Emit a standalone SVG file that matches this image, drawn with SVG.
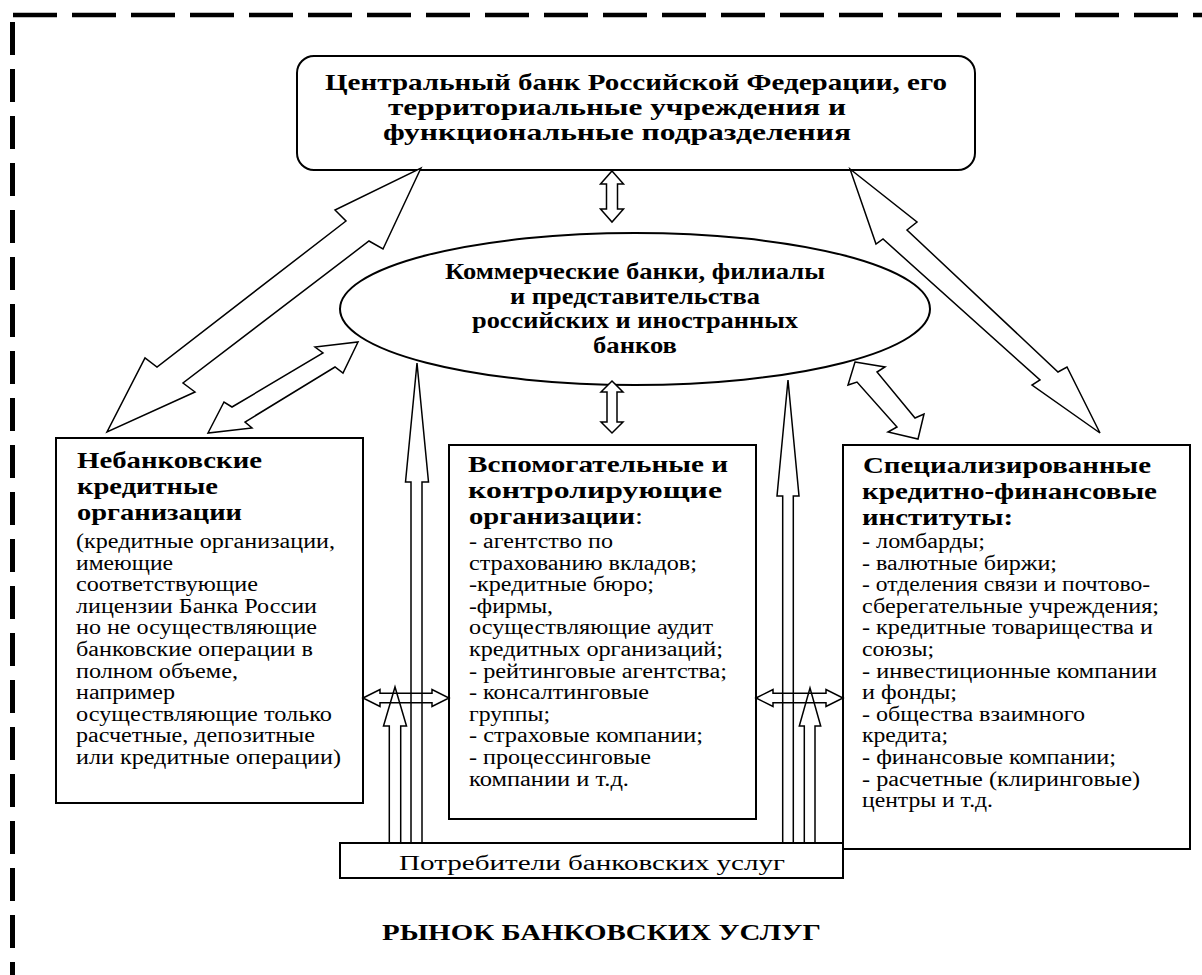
<svg xmlns="http://www.w3.org/2000/svg" width="1202" height="975" viewBox="0 0 1202 975">
<style>
.b{font-family:"Liberation Serif","Times New Roman",serif;font-weight:bold;font-size:23px;fill:#000}
.r{font-family:"Liberation Serif","Times New Roman",serif;font-size:20.5px;fill:#000}
.n{font-weight:normal}
.box{fill:#fff;stroke:#000;stroke-width:2}
.arr{fill:#fff;stroke:#000;stroke-width:1.5;stroke-linejoin:miter}
.ln{fill:none;stroke:#000;stroke-width:1.5;stroke-linejoin:miter}
.dash{stroke:#000;fill:none}
</style>
<defs>
<clipPath id="cons"><rect x="340" y="843" width="503" height="35"/></clipPath>
</defs>
<rect width="1202" height="975" fill="#fff"/>
<g id="frame">
<line class="dash" x1="13" y1="15" x2="1202" y2="15" stroke-width="4.5" stroke-dasharray="44 15"/>
<line class="dash" x1="12.5" y1="22" x2="12.5" y2="975" stroke-width="5" stroke-dasharray="33 14"/>
</g>
<g id="cbr">
<rect class="box" x="297" y="56" width="678" height="114" rx="17" stroke-width="1.6"/>
<text class="b" x="325" y="90" textLength="622" lengthAdjust="spacingAndGlyphs">Центральный банк Российской Федерации, его</text>
<text class="b" x="388" y="115" textLength="458" lengthAdjust="spacingAndGlyphs">территориальные учреждения и</text>
<text class="b" x="383" y="140" textLength="468" lengthAdjust="spacingAndGlyphs">функциональные подразделения</text>
</g>
<g id="commercial">
<ellipse class="box" cx="635" cy="309" rx="295" ry="76" stroke-width="1.6"/>
<text class="b" x="445" y="279" textLength="380" lengthAdjust="spacingAndGlyphs">Коммерческие банки, филиалы</text>
<text class="b" x="510" y="303.5" textLength="250" lengthAdjust="spacingAndGlyphs">и представительства</text>
<text class="b" x="472" y="328" textLength="326" lengthAdjust="spacingAndGlyphs">российских и иностранных</text>
<text class="b" x="593" y="352.5" textLength="84" lengthAdjust="spacingAndGlyphs">банков</text>
</g>
<g id="nonbank">
<rect class="box" x="56" y="438" width="307" height="365"/>
<text class="b" x="77" y="468" textLength="185" lengthAdjust="spacingAndGlyphs">Небанковские</text>
<text class="b" x="77" y="494" textLength="141" lengthAdjust="spacingAndGlyphs">кредитные</text>
<text class="b" x="77" y="520" textLength="165" lengthAdjust="spacingAndGlyphs">организации</text>
<text class="r" x="76" y="548" textLength="259" lengthAdjust="spacingAndGlyphs">(кредитные организации,</text>
<text class="r" x="76" y="569.6" textLength="97" lengthAdjust="spacingAndGlyphs">имеющие</text>
<text class="r" x="76" y="591.2" textLength="182" lengthAdjust="spacingAndGlyphs">соответствующие</text>
<text class="r" x="76" y="612.8" textLength="241" lengthAdjust="spacingAndGlyphs">лицензии Банка России</text>
<text class="r" x="76" y="634.4" textLength="241" lengthAdjust="spacingAndGlyphs">но не осуществляющие</text>
<text class="r" x="76" y="656" textLength="237" lengthAdjust="spacingAndGlyphs">банковские операции в</text>
<text class="r" x="76" y="677.6" textLength="162" lengthAdjust="spacingAndGlyphs">полном объеме,</text>
<text class="r" x="76" y="699.2" textLength="99" lengthAdjust="spacingAndGlyphs">например</text>
<text class="r" x="76" y="720.8" textLength="256" lengthAdjust="spacingAndGlyphs">осуществляющие только</text>
<text class="r" x="76" y="742.4" textLength="239" lengthAdjust="spacingAndGlyphs">расчетные, депозитные</text>
<text class="r" x="76" y="764" textLength="265" lengthAdjust="spacingAndGlyphs">или кредитные операции)</text>
</g>
<g id="auxiliary">
<rect class="box" x="449" y="445" width="307" height="374"/>
<text class="b" x="468" y="472" textLength="260" lengthAdjust="spacingAndGlyphs">Вспомогательные и</text>
<text class="b" x="468" y="498" textLength="254" lengthAdjust="spacingAndGlyphs">контролирующие</text>
<text class="b" x="469" y="524" textLength="174" lengthAdjust="spacingAndGlyphs">организации<tspan class="n">:</tspan></text>
<text class="r" x="469" y="548" textLength="144" lengthAdjust="spacingAndGlyphs">- агентство по</text>
<text class="r" x="469" y="569.6" textLength="228" lengthAdjust="spacingAndGlyphs">страхованию вкладов;</text>
<text class="r" x="469" y="591.2" textLength="185" lengthAdjust="spacingAndGlyphs">-кредитные бюро;</text>
<text class="r" x="469" y="612.8" textLength="84" lengthAdjust="spacingAndGlyphs">-фирмы,</text>
<text class="r" x="469" y="634.4" textLength="244" lengthAdjust="spacingAndGlyphs">осуществляющие аудит</text>
<text class="r" x="469" y="656" textLength="254" lengthAdjust="spacingAndGlyphs">кредитных организаций;</text>
<text class="r" x="469" y="677.6" textLength="258" lengthAdjust="spacingAndGlyphs">- рейтинговые агентства;</text>
<text class="r" x="469" y="699.2" textLength="180" lengthAdjust="spacingAndGlyphs">- консалтинговые</text>
<text class="r" x="469" y="720.8" textLength="81" lengthAdjust="spacingAndGlyphs">группы;</text>
<text class="r" x="469" y="742.4" textLength="234" lengthAdjust="spacingAndGlyphs">- страховые компании;</text>
<text class="r" x="469" y="764" textLength="182" lengthAdjust="spacingAndGlyphs">- процессинговые</text>
<text class="r" x="469" y="785.6" textLength="160" lengthAdjust="spacingAndGlyphs">компании и т.д.</text>
</g>
<g id="specialized">
<rect class="box" x="843" y="445" width="347" height="404"/>
<text class="b" x="863" y="473" textLength="288" lengthAdjust="spacingAndGlyphs">Специализированные</text>
<text class="b" x="862" y="499" textLength="295" lengthAdjust="spacingAndGlyphs">кредитно-финансовые</text>
<text class="b" x="862" y="525" textLength="151" lengthAdjust="spacingAndGlyphs">институты:</text>
<text class="r" x="862" y="548" textLength="123" lengthAdjust="spacingAndGlyphs">- ломбарды;</text>
<text class="r" x="862" y="569.6" textLength="195" lengthAdjust="spacingAndGlyphs">- валютные биржи;</text>
<text class="r" x="862" y="591.2" textLength="288" lengthAdjust="spacingAndGlyphs">- отделения связи и почтово-</text>
<text class="r" x="862" y="612.8" textLength="297" lengthAdjust="spacingAndGlyphs">сберегательные учреждения;</text>
<text class="r" x="862" y="634.4" textLength="291" lengthAdjust="spacingAndGlyphs">- кредитные товарищества и</text>
<text class="r" x="862" y="656" textLength="72" lengthAdjust="spacingAndGlyphs">союзы;</text>
<text class="r" x="862" y="677.6" textLength="295" lengthAdjust="spacingAndGlyphs">- инвестиционные компании</text>
<text class="r" x="862" y="699.2" textLength="95" lengthAdjust="spacingAndGlyphs">и фонды;</text>
<text class="r" x="862" y="720.8" textLength="223" lengthAdjust="spacingAndGlyphs">- общества взаимного</text>
<text class="r" x="862" y="742.4" textLength="86" lengthAdjust="spacingAndGlyphs">кредита;</text>
<text class="r" x="862" y="764" textLength="254" lengthAdjust="spacingAndGlyphs">- финансовые компании;</text>
<text class="r" x="862" y="785.6" textLength="278" lengthAdjust="spacingAndGlyphs">- расчетные (клиринговые)</text>
<text class="r" x="862" y="807.2" textLength="131" lengthAdjust="spacingAndGlyphs">центры и т.д.</text>
</g>
<g id="consumers">
<rect class="box" x="340" y="843" width="503" height="35"/>
<text class="r" x="399" y="870" font-size="21" textLength="386" lengthAdjust="spacingAndGlyphs" clip-path="url(#cons)">Потребители банковских услуг</text>
</g>
<g id="market">
<text class="b" x="382" y="940" font-size="21" textLength="439" lengthAdjust="spacingAndGlyphs">РЫНОК БАНКОВСКИХ УСЛУГ</text>
</g>
<g id="connectors">
<path class="arr" d="M421,168 L383,249 L369,241 L183,383 L195,392 L107,432 L145,358 L157,367 L346,221 L335,210 Z"/>
<path class="arr" d="M358,342 L343,373 L335,367 L245,422 L252,428 L208,433 L224,402 L232,407 L323,353 L315,347 Z"/>
<path class="arr" d="M850,169 L917,222 L907,230 L1058,372 L1067,367 L1100,433 L1032,385 L1040,380 L883,239 L876,244 Z"/>
<path class="arr" d="M855,362 L885,367 L877,372 L915,418 L924,414 L918,439 L888,432 L897,427 L857,382 L848,385 Z"/>
<path class="arr" d="M612,171 L623.5,184 L617.5,184 L617.5,209 L623.5,209 L612,222 L600.5,209 L606.5,209 L606.5,184 L600.5,184 Z"/>
<path class="arr" d="M612,381 L623,392 L617,392 L617,422 L623,422 L612,433 L601,422 L607,422 L607,392 L601,392 Z"/>
<path class="ln" d="M363,698 L380,689.5 L380,693.3 L432,693.3 L432,689.5 L449,698 L432,706.5 L432,702.7 L380,702.7 L380,706.5 Z"/>
<path class="ln" d="M756,698 L773,689.5 L773,693.3 L826,693.3 L826,689.5 L843,698 L826,706.5 L826,702.7 L773,702.7 L773,706.5 Z"/>
<path class="ln" d="M411,843 L411,482 L405.5,482 L417,363 L428.5,482 L422,482 L422,843"/>
<path class="ln" d="M389.3,843 L389.3,726 L383.5,726 L395,687 L406.5,726 L400.7,726 L400.7,843"/>
<path class="ln" d="M782.7,843 L782.7,496 L777,496 L788,380 L799,496 L793.3,496 L793.3,843"/>
<path class="ln" d="M804.3,843 L804.3,726 L799.3,726 L810,688 L820.7,726 L815,726 L815,843"/>
</g>
</svg>
